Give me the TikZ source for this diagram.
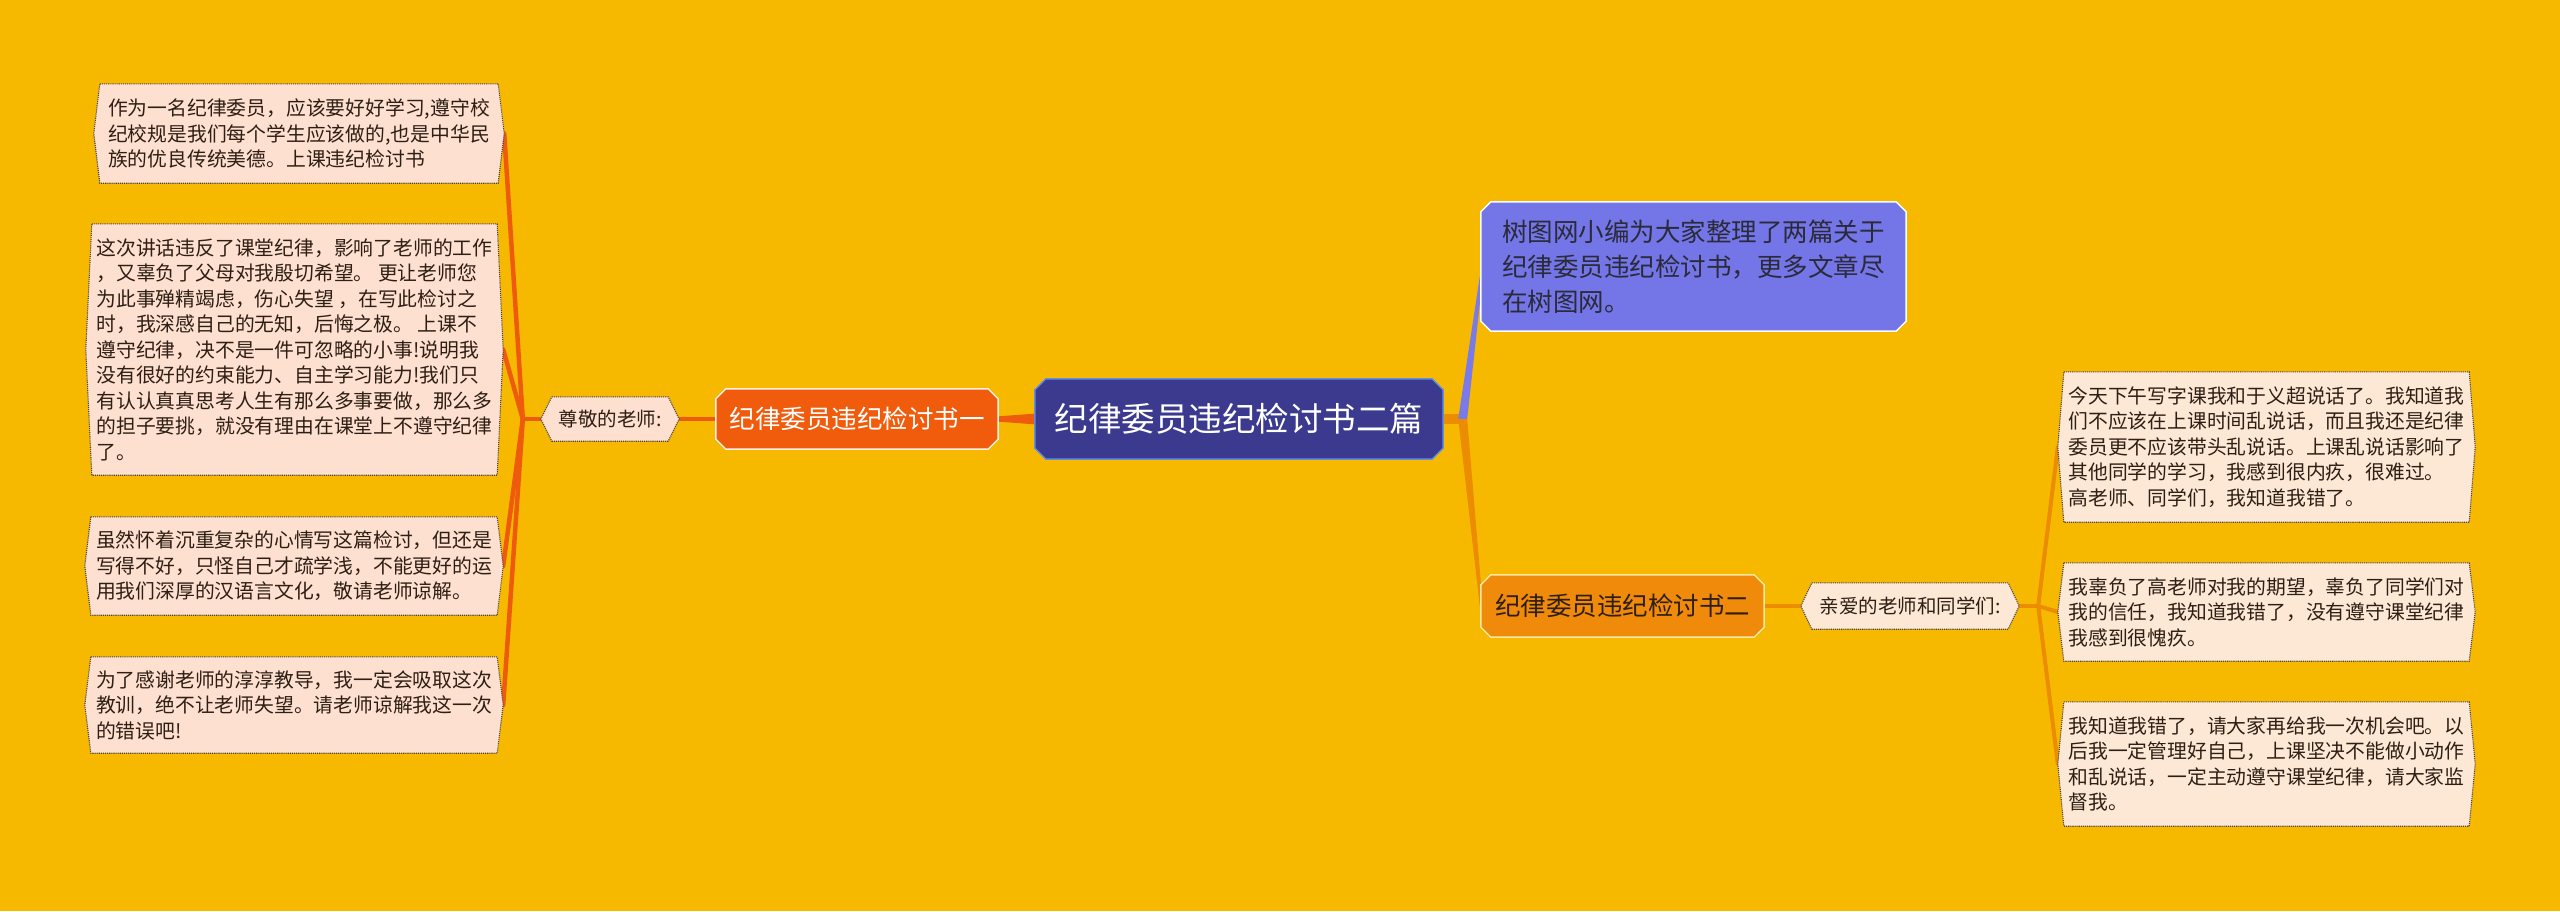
\documentclass[tikz,border=0pt]{standalone}
\usepackage{fontspec}
\setmainfont{Noto Sans CJK SC}
\usetikzlibrary{calc,backgrounds}
\definecolor{bgc}{HTML}{F6B900}
\definecolor{rootfill}{HTML}{3B3A8F}
\definecolor{rootline}{HTML}{5F8FE0}
\definecolor{bonefill}{HTML}{F05C0C}
\definecolor{btwofill}{HTML}{F08A0A}
\definecolor{btwoline}{HTML}{FFE9A0}
\definecolor{infofill}{HTML}{7475E6}
\definecolor{infotext}{HTML}{2A2A3A}
\definecolor{lleaffill}{HTML}{FDE0D0}
\definecolor{rleaffill}{HTML}{FCE8D5}
\definecolor{leaftext}{HTML}{2E1E14}
\definecolor{dotc}{HTML}{4A4040}
\definecolor{lline}{HTML}{EE5B0C}
\definecolor{rline}{HTML}{EC8C00}
\definecolor{pline}{HTML}{7A7AE8}
\newcommand\octbox[3]{%
  \path[#3] ([xshift=#2]#1.north west) -- ([xshift=-#2]#1.north east) -- ([yshift=-#2]#1.north east)
    -- ([yshift=#2]#1.south east) -- ([xshift=-#2]#1.south east) -- ([xshift=#2]#1.south west)
    -- ([yshift=#2]#1.south west) -- ([yshift=-#2]#1.north west) -- cycle;}
\newcommand\hexbox[3]{%
  \path[#3] ([xshift=#2]#1.north west) -- ([xshift=-#2]#1.north east) -- (#1.east)
    -- ([xshift=-#2]#1.south east) -- ([xshift=#2]#1.south west) -- (#1.west) -- cycle;}
\tikzset{
  box/.style={inner sep=0pt, align=left},
  leaftxt/.style={box, text=leaftext, font=\fontsize{19.8}{25.5}\selectfont},
  subtxt/.style={box, text=leaftext, font=\fontsize{19.5}{24}\selectfont},
  lleafshape/.style={fill=lleaffill, draw=dotc, line width=1.1pt, densely dotted},
  rleafshape/.style={fill=rleaffill, draw=dotc, line width=1.1pt, densely dotted},
  lconn/.style={draw=lline, line width=4.5pt, line cap=round},
  rconn/.style={draw=rline, line width=4pt, line cap=round},
}
\begin{document}
\begin{tikzpicture}[x=1pt,y=-1pt]
\useasboundingbox (0,0) rectangle (2560,911);
% ---- text nodes ----
\node[box, text=white, font=\fontsize{33.5}{38}\selectfont, minimum width=408pt, minimum height=80pt, align=center] (root) at (1239,419) {纪律委员违纪检讨书二篇};
\node[box, text=white, font=\fontsize{25.5}{30}\selectfont, minimum width=282pt, minimum height=60pt, align=center] (b1) at (857,419) {纪律委员违纪检讨书一};
\node[subtxt, minimum width=138pt, minimum height=44pt, align=center] (s1) at (610,419) {尊敬的老师:};
\node[leaftxt, minimum width=410pt, minimum height=99pt] (l1) at (299,133.5) {作为一名纪律委员，应该要好好学习,遵守校\\纪校规是我们每个学生应该做的,也是中华民\\族的优良传统美德。上课违纪检讨书};
\node[leaftxt, minimum width=417pt, minimum height=251pt] (l2) at (294.5,349.5) {这次讲话违反了课堂纪律，影响了老师的工作\\，又辜负了父母对我殷切希望。 更让老师您\\为此事殚精竭虑，伤心失望 ，在写此检讨之\\时，我深感自己的无知，后悔之极。 上课不\\遵守纪律，决不是一件可忽略的小事!说明我\\没有很好的约束能力、自主学习能力!我们只\\有认认真真思考人生有那么多事要做，那么多\\的担子要挑，就没有理由在课堂上不遵守纪律\\了。};
\node[leaftxt, minimum width=418pt, minimum height=98pt] (l3) at (294,566) {虽然怀着沉重复杂的心情写这篇检讨，但还是\\写得不好，只怪自己才疏学浅，不能更好的运\\用我们深厚的汉语言文化，敬请老师谅解。};
\node[leaftxt, minimum width=418pt, minimum height=96pt] (l4) at (294,705) {为了感谢老师的淳淳教导，我一定会吸取这次\\教训，绝不让老师失望。请老师谅解我这一次\\的错误吧!};
\node[box, text=infotext, font=\fontsize{25.5}{35}\selectfont, minimum width=425pt, minimum height=129pt] (info) at (1693.5,266.5) {树图网小编为大家整理了两篇关于\\纪律委员违纪检讨书，更多文章尽\\在树图网。};
\node[box, text=leaftext, font=\fontsize{25.5}{30}\selectfont, minimum width=283pt, minimum height=62pt, align=center] (b2) at (1622.5,606) {纪律委员违纪检讨书二};
\node[subtxt, minimum width=218pt, minimum height=46pt, align=center] (s2) at (1910,606) {亲爱的老师和同学们:};
\node[leaftxt, minimum width=417pt, minimum height=150pt] (r1) at (2266.5,447) {今天下午写字课我和于义超说话了。我知道我\\们不应该在上课时间乱说话，而且我还是纪律\\委员更不应该带头乱说话。上课乱说话影响了\\其他同学的学习，我感到很内疚，很难过。\\高老师、同学们，我知道我错了。};
\node[leaftxt, minimum width=417pt, minimum height=98pt] (r2) at (2266.5,612) {我辜负了高老师对我的期望，辜负了同学们对\\我的信任，我知道我错了，没有遵守课堂纪律\\我感到很愧疚。};
\node[leaftxt, minimum width=417pt, minimum height=124pt] (r3) at (2266.5,764) {我知道我错了，请大家再给我一次机会吧。以\\后我一定管理好自己，上课坚决不能做小动作\\和乱说话，一定主动遵守课堂纪律，请大家监\\督我。};
% ---- background: page, connectors, shapes ----
\begin{scope}[on background layer]
\fill[bgc] (0,0) rectangle (2560,911);
% junctions
\coordinate (jl) at ($(s1.west)+(-18,0)$);
\coordinate (jr) at ($(root.east)+(19,0)$);
\coordinate (js) at ($(s2.east)+(19,0)$);
% root -> b1 (tapered)
\fill[lline] ($(root.west)+(2,-5.5)$) -- ($(b1.east)+(-2,-2.5)$) -- ($(b1.east)+(-2,2.5)$) -- ($(root.west)+(2,5.5)$) -- cycle;
\draw[lconn, line cap=butt] (b1.west) -- (s1.east);
\draw[lconn, line cap=butt] (s1.west) -- (jl);
\draw[lconn] (jl) -- (l1.east);
\draw[lconn] (jl) -- (l2.east);
\draw[lconn] (jl) -- (l3.east);
\draw[lconn] (jl) -- (l4.east);
% root -> right branches
\fill[rline] ($(root.east)+(-2,-5)$) -- ($(jr)+(2,-5)$) -- ($(jr)+(2,5)$) -- ($(root.east)+(-2,5)$) -- cycle;
\fill[pline] ($(jr)+(-4,0)$) -- ($(info.west)+(-1,10)$) -- ($(info.west)+(2,10)$) -- ($(jr)+(5,0)$) -- cycle;
\fill[rline] ($(jr)+(-4,0)$) -- ($(b2.west)+(-1,0)$) -- ($(b2.west)+(2,0)$) -- ($(jr)+(5,0)$) -- cycle;
\draw[rconn, line cap=butt] (b2.east) -- (s2.west);
\draw[rconn, line cap=butt] (s2.east) -- (js);
\draw[rconn] (js) -- (r1.west);
\draw[rconn] (js) -- (r2.west);
\draw[rconn] (js) -- (r3.west);
% shapes
\octbox{root}{11pt}{fill=rootfill, draw=rootline, line width=1.5pt}
\octbox{b1}{10pt}{fill=bonefill, draw=white!90!bonefill, line width=1.5pt}
\octbox{b2}{10pt}{fill=btwofill, draw=btwoline, line width=1.5pt}
\octbox{info}{10pt}{fill=infofill, draw=white, line width=1.5pt}
\hexbox{s1}{11pt}{lleafshape}
\hexbox{s2}{11pt}{rleafshape}
\hexbox{l1}{6pt}{lleafshape}
\hexbox{l2}{6pt}{lleafshape}
\hexbox{l3}{6pt}{lleafshape}
\hexbox{l4}{6pt}{lleafshape}
\hexbox{r1}{6pt}{rleafshape}
\hexbox{r2}{6pt}{rleafshape}
\hexbox{r3}{6pt}{rleafshape}
\end{scope}
\end{tikzpicture}
\end{document}
